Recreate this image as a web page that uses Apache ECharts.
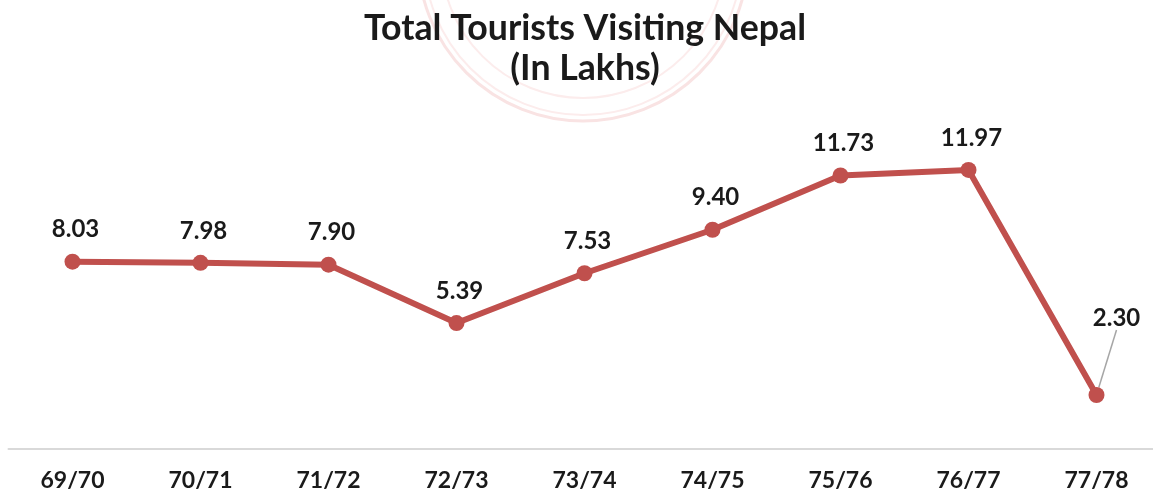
<!DOCTYPE html>
<html>
<head>
<meta charset="utf-8">
<style>html,body{margin:0;padding:0;background:#fff}#chart{width:1153px;height:493px}</style>
<script src="https://cdn.jsdelivr.net/npm/echarts@6/dist/echarts.min.js"></script>
</head>
<body>
<div id="chart"></div>
<script>
// Fiscal years and tourist arrivals, in lakhs
const fiscalYears = ['69/70','70/71','71/72','72/73','73/74','74/75','75/76','76/77','77/78'];
const tourists = [8.03,7.98,7.90,5.39,7.53,9.40,11.73,11.97,2.30];

const chart = echarts.init(document.getElementById('chart'), null, {renderer:'canvas'});
const ink = '#1a1a1a';
const lineRed = '#c0504d';
const lastIndex = tourists.length - 1;

// Only the last point carries a leader line to its label
const seriesData = tourists.map((value, i) => i === lastIndex
  ? {value, labelLine:{show:true, lineStyle:{color:'#a6a6a6', width:1.5}}}
  : {value, labelLine:{show:false}});

chart.setOption({
  animation:false,
  backgroundColor:'#fff',
  // Faint seal behind the heading
  graphic:[
    {type:'circle',z:0,shape:{cx:583,cy:-44,r:165},style:{fill:'none',stroke:'#f9e3e3',lineWidth:3}},
    {type:'circle',z:0,shape:{cx:583,cy:-44,r:159},style:{fill:'none',stroke:'#fcecec',lineWidth:2}},
    {type:'circle',z:0,shape:{cx:583,cy:-44,r:142},style:{fill:'none',stroke:'#fcecec',lineWidth:2}}
  ],
  title:{
    text:'Total Tourists Visiting Nepal\n(In Lakhs)',
    left:580,top:4,textAlign:'center',
    textStyle:{fontFamily:'Lato',fontWeight:'bold',fontSize:35.7,lineHeight:39.5,color:ink}
  },
  grid:{left:8.5,width:1152,top:122.7,bottom:44.5,outerBoundsMode:'none'},
  xAxis:{
    type:'category',data:fiscalYears,boundaryGap:true,
    axisLine:{lineStyle:{color:'#d9d9d9',width:2}},
    axisTick:{show:false},
    axisLabel:{fontFamily:'Lato',fontWeight:'bold',fontSize:23,color:ink,margin:21,interval:0}
  },
  yAxis:{type:'value',min:0,max:14,show:false,splitLine:{show:false}},
  series:[{
    type:'line',data:seriesData,
    symbol:'circle',symbolSize:16,
    lineStyle:{color:lineRed,width:6},
    itemStyle:{color:lineRed},
    label:{
      show:true,position:'top',distance:12,
      fontFamily:'Lato',fontWeight:'bold',fontSize:24,color:ink,
      formatter:p=>p.value.toFixed(2)
    },
    // Labels sit slightly right of their points; the last one is lifted clear of the line
    labelLayout:p=>p.dataIndex===lastIndex ? {dx:20,dy:-45} : {dx:3}
  }]
});
</script>
</body>
</html>
